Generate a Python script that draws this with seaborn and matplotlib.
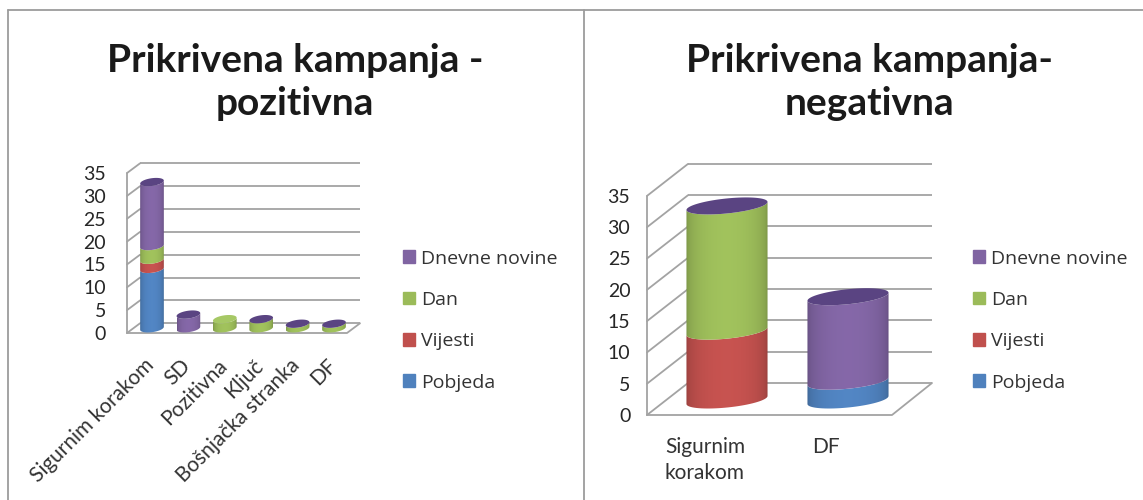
import numpy as np
import matplotlib
matplotlib.use("Agg")
import matplotlib.pyplot as plt
from matplotlib.lines import Line2D
from matplotlib.path import Path
from matplotlib.patches import PathPatch, Patch
from matplotlib.transforms import ScaledTranslation
import seaborn as sns

series = ["Pobjeda", "Vijesti", "Dan", "Dnevne novine"]
colors = ["#4F81BD", "#C0504D", "#9BBB59", "#8064A2"]
caps = ["#3A6596", "#96393A", "#A6C865", "#5A4482"]
ticks = [0, 5, 10, 15, 20, 25, 30, 35]

left_cats = ["Sigurnim korakom", "SD", "Pozitivna", "Ključ", "Bošnjačka stranka", "DF"]
left_pobjeda = [13, 0, 0, 0, 0, 0]
left_vijesti = [2, 0, 0, 0, 0, 0]
left_dan = [3, 0, 2, 2, 1, 1]
left_dnevne = [14, 3, np.nan, 0, 0, 0]

right_cats = ["Sigurnim\nkorakom", "DF"]
right_pobjeda = [0, 3]
right_vijesti = [11, 0]
right_dan = [20, 0]
right_dnevne = [0, 13.5]

W, H = 1143, 500
GRID = "#a3a3a3"

sns.set_theme(style="white")
plt.rcParams["font.family"] = ["Lato", "DejaVu Sans"]


def ellipse_pts(cx, cy, a, b, k, t):
    return cx + a * np.cos(t), cy + b * np.sin(t) + k * np.cos(t)


def cylinder(ax, rect, color, cap, z, b, k, draw_cap):
    x0, w = rect.get_x(), rect.get_width()
    y0, h = rect.get_y(), rect.get_height()
    a, cx = w / 2, x0 + w / 2
    if h > 0:
        # body: top edge straight across, bottom edge is the front half of the ellipse
        t = np.linspace(np.pi, 2 * np.pi, 40)
        xs, ys = ellipse_pts(cx, y0, a, b, k, t)
        xt, yt = ellipse_pts(cx, y0 + h, a, b, k, t[::-1])
        verts = np.column_stack([np.r_[xs, xt], np.r_[ys, yt]])
        clip = PathPatch(Path(np.r_[verts, verts[:1]]), fc="none", ec="none", transform=ax.transData)
        ax.add_patch(clip)
        u = np.linspace(-1, 1, 64)
        shade = 0.80 + 0.24 * np.sqrt(1 - u ** 2)
        rgb = np.clip(np.array(matplotlib.colors.to_rgb(color))[None, None, :] * shade[None, :, None], 0, 1)
        im = ax.imshow(rgb, extent=(x0, x0 + w, y0 - b - abs(k), y0 + h + b + abs(k)),
                       aspect="auto", zorder=z, interpolation="bilinear")
        im.set_clip_path(clip)
    if draw_cap:
        t = np.linspace(0, 2 * np.pi, 80)
        xs, ys = ellipse_pts(cx, y0 + h, a, b, k, t)
        ax.fill(xs, ys, color=cap, lw=0, zorder=z + 20)


def draw_chart(box, cats, values, base, step, c0, spacing, bar_w, back, front, right_back, right_front, b, k):
    x0, y0, x1, y1 = box
    ax = fig.add_axes([x0 / W, 1 - y1 / H, (x1 - x0) / W, (y1 - y0) / H])
    ax.patch.set_alpha(0)
    bottom = np.zeros(len(cats))
    for name, vals, col in zip(series, values, colors):
        vals = np.array(vals, dtype=float)
        clean = np.nan_to_num(vals)
        sns.barplot(x=cats, y=clean, order=cats, bottom=bottom, color=col, saturation=1,
                    width=bar_w, label=name, ax=ax, zorder=3, linewidth=0)
        bottom = bottom + clean

    # cylinders on top of the seaborn bars, stacked from the floor up
    last = np.full(len(cats), -1)
    for i, vals in enumerate(values):
        for j, v in enumerate(vals):
            if not np.isnan(v):
                last[j] = i
    for i, cont in enumerate(ax.containers):
        for j, rect in enumerate(cont.patches):
            rect.set_visible(False)
            cylinder(ax, rect, colors[i], caps[i], 4 + i, b, k, last[j] == i)

    xlim = ((x0 - c0) / spacing, (x1 - c0) / spacing)
    ylim = ((base - y1) / step, (base - y0) / step)
    tick_arr = np.array(ticks)
    fx = xlim[0]
    bx = (back[0] - c0) / spacing
    bo = (base - back[1]) / step
    fo = (base - front) / step
    rb = (right_back - c0) / spacing
    rf = (right_front - c0) / spacing
    line = dict(color=GRID, lw=1.3, zorder=1, clip_on=False)
    ax.hlines(tick_arr + bo, bx, rb, **line)
    for v in tick_arr:
        ax.plot([fx, bx], [v + fo, v + bo], **line)
    ax.plot([fx, fx], [fo, tick_arr[-1] + fo], **line)
    ax.plot([fx, rf, rb], [fo, fo, bo], **line)

    ax.set_xlim(xlim)
    ax.set_ylim(ylim)
    ax.set_yticks(tick_arr + fo, labels=[str(v) for v in ticks])
    ax.set_xlabel("")
    ax.set_ylabel("")
    sns.despine(ax=ax, left=True, bottom=True)
    return ax


fig = plt.figure(figsize=(W / 100, H / 100), dpi=100, facecolor="white")

# frame round the two panels
for xs, ys in [((8, 8), (10, 500)), ((8, 1143), (10, 10)), ((584, 584), (10, 500))]:
    fig.add_artist(Line2D([x / W for x in xs], [1 - y / H for y in ys], color="#9c9c9c", lw=1.3))

ax1 = draw_chart((127, 150, 360, 340), left_cats,
                 [left_pobjeda, left_vijesti, left_dan, left_dnevne],
                 base=328.3, step=4.57, c0=152, spacing=36.4, bar_w=0.65,
                 back=(140, 323.3), front=333, right_back=360, right_front=347, b=0.85, k=0.33)
ax2 = draw_chart((647, 150, 932, 420), right_cats,
                 [right_pobjeda, right_vijesti, right_dan, right_dnevne],
                 base=400, step=6.26, c0=727, spacing=121, bar_w=0.67,
                 back=(688, 383), front=415, right_back=932, right_front=892, b=1.2, k=0.64)

ax1.tick_params(axis="y", length=0, pad=15, labelsize=14, labelcolor="#262626")
ax2.tick_params(axis="y", length=0, pad=12, labelsize=14, labelcolor="#262626")
ax1.tick_params(axis="x", length=0, pad=11, labelsize=15, labelcolor="#333333")
ax2.tick_params(axis="x", length=0, pad=12.5, labelsize=15, labelcolor="#333333")
shift1 = ScaledTranslation(-8 / 100, 0, fig.dpi_scale_trans)
for lab in ax1.get_xticklabels():
    lab.set(rotation=45, ha="right", va="top", rotation_mode="anchor")
    lab.set_transform(lab.get_transform() + shift1)
shift2 = ScaledTranslation(-22 / 100, 0, fig.dpi_scale_trans)
for lab in ax2.get_xticklabels():
    lab.set(ha="center", multialignment="left", linespacing=1.33)
    lab.set_transform(lab.get_transform() + shift2)

for cx, title in [(295, "Prikrivena kampanja -\npozitivna"),
                  (869, "Prikrivena kampanja-\nnegativna")]:
    fig.text(cx / W, 1 - 82 / H, title, ha="center", va="center", fontsize=28,
             fontweight="bold", color="#1a1a1a", linespacing=1.3)

for ax, lx in [(ax1, 403), (ax2, 973)]:
    handles = [Patch(color=c, label=s) for c, s in zip(colors, series)]
    ax.legend(handles=handles[::-1], loc="upper left", bbox_to_anchor=(lx / W, 1 - 249.5 / H),
              bbox_transform=fig.transFigure, frameon=False, borderpad=0, borderaxespad=0,
              prop={"family": "Open Sans", "size": 14}, labelcolor="#333333",
              handlelength=0.62, handleheight=0.62, handletextpad=0.3, labelspacing=1.2)

fig.savefig("out.png", dpi=100, facecolor="white")
